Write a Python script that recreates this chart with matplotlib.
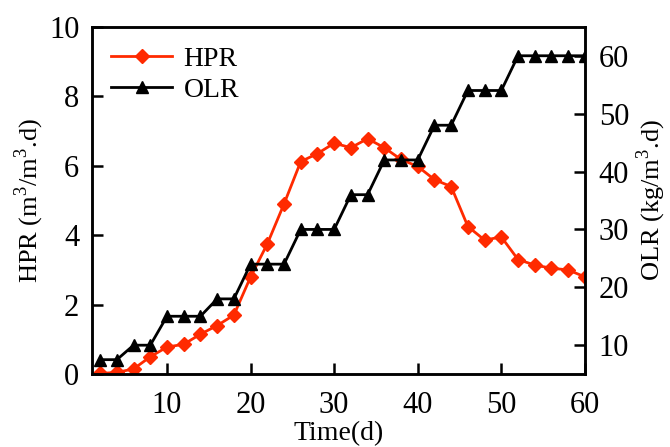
import matplotlib
matplotlib.use("Agg")
import matplotlib.pyplot as plt
from matplotlib import rcParams

# data
days = [2, 4, 6, 8, 10, 12, 14, 16, 18, 20, 22, 24, 26, 28, 30,
        32, 34, 36, 38, 40, 42, 44, 46, 48, 50, 52, 54, 56, 58, 60]
hpr = [0.02, 0.05, 0.15, 0.5, 0.78, 0.86, 1.15, 1.4, 1.7, 2.8,
       3.75, 4.9, 6.12, 6.35, 6.65, 6.52, 6.78, 6.52, 6.18, 5.98,
       5.6, 5.4, 4.25, 3.86, 3.95, 3.3, 3.14, 3.05, 3.0, 2.8]
olr = [7.5, 7.5, 10, 10, 15, 15, 15, 18, 18, 24,
       24, 24, 30, 30, 30, 36, 36, 42, 42, 42,
       48, 48, 54, 54, 54, 60, 60, 60, 60, 60]

rcParams.update({'font.size': 19})
rcParams['font.family'] = ['Liberation Serif', 'DejaVu Serif']
rcParams['mathtext.fontset'] = 'custom'
rcParams['mathtext.rm'] = 'Liberation Serif'

red = '#ff2a00'

fig = plt.figure(figsize=(6.7, 4.47), dpi=100)
ax = fig.add_axes([0.137, 0.163, 0.736, 0.777])
ax2 = ax.twinx()

l1, = ax.plot(days, hpr, color=red, marker='D', markersize=7.5, linewidth=2, label='HPR')
l2, = ax2.plot(days, olr, color='black', marker='^', markersize=9, linewidth=2, label='OLR')

ax.set_xlim(1, 60)
ax.set_ylim(0, 10)
ax2.set_ylim(5, 65)
ax.set_xticks([10, 20, 30, 40, 50, 60])
ax.set_yticks([0, 2, 4, 6, 8, 10])
ax2.set_yticks([10, 20, 30, 40, 50, 60])

for a in (ax, ax2):
    for s in a.spines.values():
        s.set_linewidth(1.8)
    a.tick_params(direction='in', length=8, width=1.8, labelsize=22)
ax.tick_params(axis='x', pad=12)
ax.tick_params(axis='y', pad=9)
ax2.tick_params(axis='y', pad=10)

ax.set_xlabel('Time(d)', labelpad=1, fontsize=20)
ax.set_ylabel(r'HPR (m$^{\mathrm{3}}$/m$^{\mathrm{3}}$.d)', labelpad=2)
ax2.set_ylabel(r'OLR (kg/m$^{\mathrm{3}}$.d)', labelpad=4)

ax.legend(handles=[l1, l2], loc='upper left', bbox_to_anchor=(0.0, 1.0),
          frameon=False, handlelength=2.2, handletextpad=0.4, fontsize=20,
          labelspacing=0.2, borderaxespad=0.3)

fig.savefig('out.png', dpi=100)
